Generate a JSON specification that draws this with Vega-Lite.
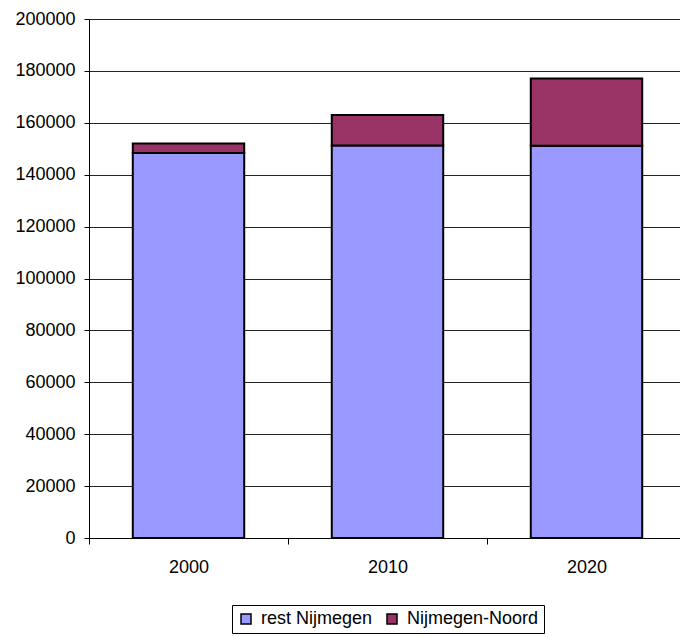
{
  "$schema": "https://vega.github.io/schema/vega-lite/v6.json",
  "autosize": "none",
  "padding": {"left": 89, "top": 19, "right": 0, "bottom": 100},
  "width": 597,
  "height": 519,
  "background": "white",
  "config": {
    "view": {"stroke": null},
    "font": "Liberation Sans",
    "axis": {"labelFont": "Liberation Sans", "labelFontSize": 18, "labelColor": "black", "domainColor": "black", "tickColor": "black", "title": null}
  },
  "data": {
    "values": [
      {"year": "2000", "series": "rest Nijmegen", "order": 1, "value": 148400},
      {"year": "2000", "series": "Nijmegen-Noord", "order": 2, "value": 3600},
      {"year": "2010", "series": "rest Nijmegen", "order": 1, "value": 151300},
      {"year": "2010", "series": "Nijmegen-Noord", "order": 2, "value": 11700},
      {"year": "2020", "series": "rest Nijmegen", "order": 1, "value": 151200},
      {"year": "2020", "series": "Nijmegen-Noord", "order": 2, "value": 25900}
    ]
  },
  "mark": {"type": "bar", "stroke": "black", "strokeWidth": 2, "width": {"band": 0.56}},
  "encoding": {
    "x": {
      "field": "year", "type": "nominal",
      "scale": {"paddingInner": 0, "paddingOuter": 0},
      "axis": {"labelAngle": 0, "tickBand": "extent", "tickSize": 6, "labelPadding": 14, "domainWidth": 1, "grid": false}
    },
    "y": {
      "field": "value", "type": "quantitative", "stack": "zero",
      "scale": {"domain": [0, 200000], "nice": false},
      "axis": {"values": [0, 20000, 40000, 60000, 80000, 100000, 120000, 140000, 160000, 180000, 200000], "format": "d", "tickSize": 5, "labelPadding": 9, "grid": true, "gridColor": "#222222", "gridWidth": 1, "gridOpacity": 1}
    },
    "color": {
      "field": "series", "type": "nominal",
      "scale": {"domain": ["rest Nijmegen", "Nijmegen-Noord"], "range": ["#9999FF", "#993366"]},
      "legend": {
        "title": null, "orient": "none", "direction": "horizontal",
        "legendX": 143, "legendY": 586,
        "strokeColor": "black", "padding": 5,
        "symbolType": "square", "symbolSize": 100, "symbolStrokeColor": "black", "symbolStrokeWidth": 1.5, "symbolOpacity": 1,
        "labelFontSize": 18, "labelFont": "Liberation Sans", "labelColor": "black", "labelOffset": 6, "columnPadding": 10
      }
    },
    "order": {"field": "order", "type": "quantitative"}
  }
}
